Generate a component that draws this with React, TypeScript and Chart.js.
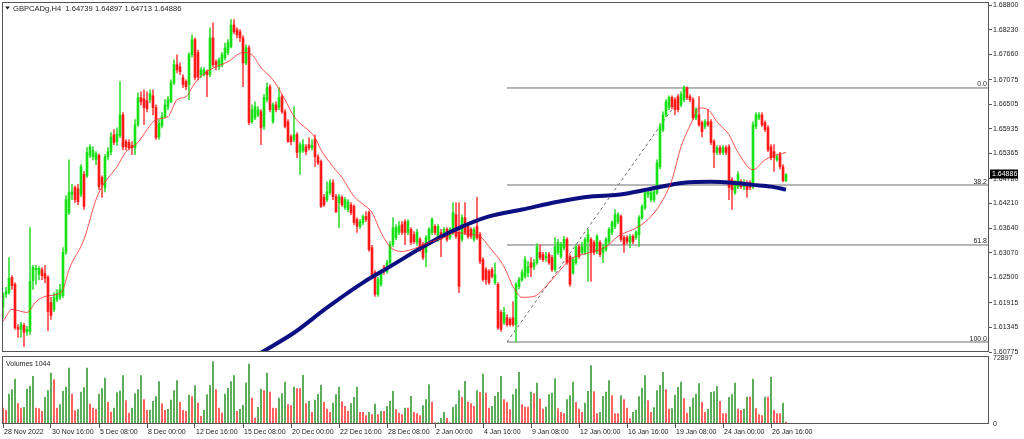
import React, { useEffect, useRef } from "react";
import { Chart, registerables } from "chart.js";
Chart.register(...registerables);

// ---------------- data ----------------
const symbolTitle = "GBPCADg,H4";

const opens = [
  1.6181,1.6211,1.6215,1.6250,1.6234,1.6134,1.6130,1.6139,1.6125,1.6125,
  1.6243,1.6268,1.6257,1.6268,1.6259,1.6250,1.6192,1.6176,1.6199,1.6204,
  1.6208,1.6308,1.6400,1.6442,1.6458,1.6455,1.6442,1.6488,1.6485,1.6532,
  1.6529,1.6522,1.6532,1.6481,1.6458,1.6529,1.6541,1.6580,1.6564,1.6578,
  1.6626,1.6564,1.6562,1.6555,1.6550,1.6603,1.6666,1.6663,1.6659,1.6661,
  1.6670,1.6643,1.6575,1.6601,1.6622,1.6645,1.6656,1.6700,1.6742,1.6737,
  1.6712,1.6703,1.6696,1.6765,1.6800,1.6770,1.6719,1.6719,1.6726,1.6719,
  1.6804,1.6749,1.6737,1.6742,1.6758,1.6770,1.6783,1.6834,1.6823,1.6818,
  1.6804,1.6746,1.6781,1.6610,1.6619,1.6626,1.6633,1.6599,1.6661,1.6691,
  1.6610,1.6649,1.6643,1.6668,1.6633,1.6610,1.6575,1.6569,1.6580,1.6539,
  1.6543,1.6552,1.6557,1.6550,1.6569,1.6529,1.6518,1.6435,1.6430,1.6446,
  1.6469,1.6437,1.6423,1.6435,1.6412,1.6407,1.6418,1.6414,1.6384,1.6368,
  1.6377,1.6391,1.6400,1.6319,1.6261,1.6211,1.6234,1.6273,1.6264,1.6284,
  1.6326,1.6342,1.6354,1.6372,1.6379,1.6354,1.6361,1.6349,1.6331,1.6338,
  1.6326,1.6308,1.6338,1.6354,1.6368,1.6338,1.6354,1.6349,1.6361,1.6342,
  1.6354,1.6395,1.6354,1.6338,1.6388,1.6368,1.6361,1.6338,1.6368,1.6349,
  1.6291,1.6268,1.6264,1.6268,1.6238,1.6234,1.6169,1.6146,1.6157,1.6153,
  1.6157,1.6141,1.6229,1.6245,1.6252,1.6261,1.6284,1.6275,1.6284,1.6308,
  1.6303,1.6296,1.6303,1.6296,1.6268,1.6308,1.6298,1.6319,1.6338,1.6298,
  1.6261,1.6284,1.6321,1.6308,1.6308,1.6333,1.6338,1.6331,1.6310,1.6331,
  1.6308,1.6314,1.6333,1.6354,1.6368,1.6379,1.6391,1.6342,1.6342,1.6331,
  1.6345,1.6342,1.6349,1.6388,1.6412,1.6442,1.6430,1.6430,1.6446,1.6506,
  1.6592,1.6626,1.6643,1.6666,1.6661,1.6668,1.6649,1.6661,1.6689,1.6668,
  1.6661,1.6619,1.6626,1.6608,1.6599,1.6610,1.6610,1.6564,1.6539,1.6550,
  1.6539,1.6550,1.6552,1.6476,1.6446,1.6460,1.6471,1.6460,1.6469,1.6469,
  1.6460,1.6599,1.6619,1.6626,1.6608,1.6596,1.6552,1.6541,1.6522,1.6534,
  1.6506,1.64739,
];

const highs = [
  1.6215,1.6227,1.6296,1.6254,1.6238,1.6141,1.6146,1.6144,1.6137,1.6365,
  1.6278,1.6278,1.6275,1.6273,1.6278,1.6254,1.6204,1.6215,1.6222,1.6234,
  1.6319,1.6439,1.6522,1.6465,1.6462,1.6465,1.6511,1.6495,1.6550,1.6557,
  1.6552,1.6541,1.6536,1.6485,1.6534,1.6550,1.6585,1.6592,1.6596,1.6703,
  1.6631,1.6569,1.6569,1.6564,1.6615,1.6677,1.6679,1.6684,1.6679,1.6684,
  1.6684,1.6649,1.6615,1.6631,1.6661,1.6668,1.6707,1.6753,1.6765,1.6746,
  1.6719,1.6707,1.6770,1.6811,1.6804,1.6776,1.6735,1.6735,1.6730,1.6827,
  1.6839,1.6753,1.6758,1.6770,1.6792,1.6800,1.6846,1.6846,1.6827,1.6823,
  1.6809,1.6788,1.6786,1.6649,1.6656,1.6645,1.6638,1.6673,1.6700,1.6696,
  1.6654,1.6656,1.6689,1.6673,1.6638,1.6615,1.6580,1.6645,1.6585,1.6562,
  1.6569,1.6557,1.6573,1.6569,1.6580,1.6534,1.6522,1.6442,1.6471,1.6476,
  1.6476,1.6442,1.6442,1.6439,1.6435,1.6430,1.6423,1.6418,1.6388,1.6384,
  1.6395,1.6402,1.6404,1.6324,1.6266,1.6250,1.6268,1.6278,1.6290,1.6333,
  1.6388,1.6372,1.6379,1.6379,1.6384,1.6384,1.6365,1.6356,1.6361,1.6342,
  1.6331,1.6347,1.6365,1.6388,1.6372,1.6372,1.6361,1.6365,1.6365,1.6365,
  1.6423,1.6423,1.6423,1.6395,1.6423,1.6372,1.6365,1.6365,1.6435,1.6354,
  1.6296,1.6273,1.6268,1.6273,1.6284,1.6238,1.6174,1.6181,1.6164,1.6157,
  1.6194,1.6238,1.6250,1.6268,1.6298,1.6287,1.6296,1.6291,1.6328,1.6326,
  1.6308,1.6308,1.6308,1.6301,1.6342,1.6338,1.6331,1.6345,1.6342,1.6303,
  1.6296,1.6326,1.6326,1.6331,1.6342,1.6361,1.6342,1.6335,1.6349,1.6335,
  1.6326,1.6342,1.6365,1.6381,1.6407,1.6400,1.6395,1.6347,1.6347,1.6349,
  1.6349,1.6358,1.6393,1.6418,1.6451,1.6453,1.6453,1.6453,1.6522,1.6606,
  1.6633,1.6661,1.6670,1.6670,1.6666,1.6673,1.6679,1.6693,1.6691,1.6673,
  1.6666,1.6643,1.6668,1.6612,1.6615,1.6638,1.6615,1.6569,1.6555,1.6555,
  1.6555,1.6555,1.6557,1.6481,1.6474,1.6495,1.6476,1.6476,1.6474,1.6474,
  1.6610,1.6631,1.6631,1.6631,1.6612,1.6601,1.6557,1.6557,1.6534,1.6539,
  1.6511,1.64897,
];

const lows = [
  1.6157,1.6204,1.6211,1.6222,1.6130,1.6111,1.6111,1.6090,1.6116,1.6118,
  1.6222,1.6234,1.6245,1.6245,1.6238,1.6127,1.6153,1.6171,1.6194,1.6199,
  1.6204,1.6303,1.6395,1.6430,1.6423,1.6418,1.6437,1.6407,1.6481,1.6527,
  1.6522,1.6511,1.6453,1.6435,1.6448,1.6522,1.6534,1.6557,1.6555,1.6573,
  1.6545,1.6545,1.6545,1.6534,1.6534,1.6599,1.6649,1.6603,1.6633,1.6654,
  1.6626,1.6569,1.6569,1.6596,1.6619,1.6638,1.6654,1.6696,1.6723,1.6719,
  1.6689,1.6684,1.6661,1.6760,1.6707,1.6707,1.6712,1.6716,1.6668,1.6714,
  1.6737,1.6730,1.6730,1.6737,1.6753,1.6765,1.6781,1.6813,1.6804,1.6795,
  1.6691,1.6742,1.6603,1.6606,1.6615,1.6622,1.6557,1.6592,1.6656,1.6633,
  1.6606,1.6633,1.6638,1.6629,1.6596,1.6562,1.6557,1.6564,1.6527,1.6488,
  1.6539,1.6534,1.6545,1.6545,1.6506,1.6511,1.6412,1.6414,1.6425,1.6442,
  1.6430,1.6400,1.6365,1.6414,1.6407,1.6402,1.6395,1.6372,1.6354,1.6363,
  1.6372,1.6379,1.6310,1.6250,1.6206,1.6206,1.6229,1.6257,1.6259,1.6280,
  1.6321,1.6337,1.6349,1.6349,1.6326,1.6349,1.6326,1.6328,1.6324,1.6310,
  1.6291,1.6275,1.6333,1.6349,1.6349,1.6333,1.6298,1.6345,1.6333,1.6338,
  1.6349,1.6340,1.6215,1.6333,1.6349,1.6340,1.6340,1.6333,1.6338,1.6282,
  1.6241,1.6234,1.6234,1.6248,1.6234,1.6130,1.6125,1.6141,1.6137,1.6137,
  1.6137,1.6100,1.6224,1.6241,1.6248,1.6252,1.6252,1.6268,1.6280,1.6291,
  1.6287,1.6287,1.6280,1.6264,1.6264,1.6303,1.6294,1.6314,1.6280,1.6229,
  1.6257,1.6280,1.6294,1.6303,1.6303,1.6241,1.6241,1.6303,1.6305,1.6298,
  1.6284,1.6310,1.6328,1.6349,1.6363,1.6374,1.6333,1.6308,1.6328,1.6319,
  1.6328,1.6338,1.6321,1.6384,1.6407,1.6435,1.6425,1.6425,1.6442,1.6501,
  1.6587,1.6622,1.6638,1.6640,1.6626,1.6633,1.6645,1.6656,1.6661,1.6656,
  1.6615,1.6615,1.6599,1.6575,1.6594,1.6599,1.6557,1.6504,1.6534,1.6534,
  1.6534,1.6534,1.6430,1.6407,1.6442,1.6455,1.6455,1.6453,1.6435,1.6453,
  1.6455,1.6594,1.6615,1.6599,1.6587,1.6541,1.6522,1.6495,1.6518,1.6501,
  1.6471,1.64713,
];

const closes = [
  1.6211,1.6217,1.6248,1.6231,1.6134,1.6130,1.6141,1.6123,1.6130,1.6241,
  1.6273,1.6271,1.6271,1.6254,1.6248,1.6171,1.6162,1.6204,1.6213,1.6222,
  1.6308,1.6430,1.6446,1.6448,1.6430,1.6425,1.6506,1.6414,1.6539,1.6552,
  1.6543,1.6536,1.6460,1.6465,1.6529,1.6541,1.6575,1.6562,1.6582,1.6626,
  1.6552,1.6552,1.6550,1.6550,1.6603,1.6666,1.6656,1.6643,1.6640,1.6675,
  1.6643,1.6573,1.6606,1.6622,1.6649,1.6661,1.6700,1.6742,1.6730,1.6726,
  1.6696,1.6691,1.6765,1.6800,1.6712,1.6714,1.6730,1.6730,1.6719,1.6804,
  1.6742,1.6742,1.6753,1.6765,1.6781,1.6793,1.6834,1.6818,1.6811,1.6804,
  1.6746,1.6781,1.6608,1.6638,1.6645,1.6638,1.6596,1.6666,1.6689,1.6638,
  1.6649,1.6638,1.6666,1.6633,1.6599,1.6564,1.6564,1.6580,1.6539,1.6557,
  1.6557,1.6541,1.6550,1.6555,1.6529,1.6515,1.6414,1.6418,1.6448,1.6469,
  1.6437,1.6402,1.6437,1.6418,1.6430,1.6425,1.6400,1.6377,1.6368,1.6379,
  1.6391,1.6384,1.6314,1.6252,1.6211,1.6245,1.6261,1.6264,1.6284,1.6326,
  1.6365,1.6365,1.6368,1.6354,1.6354,1.6379,1.6331,1.6333,1.6354,1.6314,
  1.6296,1.6342,1.6361,1.6384,1.6354,1.6368,1.6338,1.6361,1.6338,1.6361,
  1.6400,1.6345,1.6229,1.6388,1.6354,1.6345,1.6345,1.6361,1.6342,1.6287,
  1.6245,1.6245,1.6238,1.6252,1.6257,1.6134,1.6130,1.6169,1.6141,1.6141,
  1.6141,1.6234,1.6245,1.6261,1.6291,1.6275,1.6273,1.6284,1.6321,1.6296,
  1.6291,1.6298,1.6284,1.6268,1.6321,1.6331,1.6326,1.6338,1.6284,1.6234,
  1.6291,1.6319,1.6298,1.6321,1.6338,1.6349,1.6308,1.6308,1.6345,1.6303,
  1.6319,1.6338,1.6361,1.6377,1.6395,1.6395,1.6338,1.6326,1.6333,1.6345,
  1.6333,1.6354,1.6388,1.6414,1.6446,1.6448,1.6446,1.6448,1.6515,1.6599,
  1.6626,1.6656,1.6666,1.6645,1.6638,1.6638,1.6673,1.6689,1.6666,1.6661,
  1.6619,1.6638,1.6603,1.6587,1.6610,1.6603,1.6562,1.6539,1.6550,1.6539,
  1.6550,1.6539,1.6458,1.6453,1.6469,1.6488,1.6460,1.6469,1.6453,1.6458,
  1.6603,1.6626,1.6626,1.6603,1.6592,1.6545,1.6527,1.6527,1.6529,1.6506,
  1.6474,1.64886,
];

const volumes = [
  16570,13990,32030,36820,48600,21360,16570,17310,37560,40500,
  51550,16570,15830,12890,28350,35710,55230,47870,16570,20250,
  34980,39770,60750,32030,13620,14730,34240,39030,60750,20990,
  16570,15100,32030,37930,49710,22830,12150,16570,33510,35350,
  52280,24670,11050,16570,32400,36820,52280,25770,13990,14360,
  23930,29090,45660,21360,13990,15100,25410,35710,46760,22830,
  13990,12890,30560,29090,41240,22090,7360,13990,31300,41610,
  67750,36820,16570,11050,32030,38290,45660,52280,12890,15100,
  19510,44180,65170,27610,5520,17310,37560,35710,55230,34240,
  16570,15830,27610,32400,45290,20250,19150,39770,37930,37930,
  52650,21360,23930,11780,25410,31670,41980,22830,15470,11780,
  22090,31300,39770,23570,18410,12890,21360,28350,39770,11780,
  11780,8100,11780,9210,20990,9210,12890,12890,18410,23930,
  34980,14730,11050,9210,16570,16570,29460,11780,10310,8100,
  19150,25770,42340,23200,300,400,5150,11780,5150,600,
  17310,20250,35710,28350,46030,23200,21360,18410,35710,33870,
  54130,33140,16570,18410,29460,33870,51550,25770,22830,14730,
  31300,37560,55970,20250,17670,17670,34240,32400,44180,26510,
  15470,17670,31300,33140,48970,15830,11780,10310,25770,30190,
  45290,22830,15470,11780,22090,34980,63330,34610,10310,11780,
  29460,34240,46760,30190,10310,10310,30190,25770,16570,4790,
  11780,13990,29090,38660,52280,24670,11780,16940,35710,41240,
  55970,36820,15470,15830,30930,39400,45290,26880,11050,17670,
  27610,32030,43450,22830,11780,15100,33870,34610,40130,23930,
  10310,10310,28350,31300,44180,15470,13990,15470,28720,28720,
  48600,15830,9210,8100,28720,28720,50810,13990,10310,10310,
  22090,1044,
];

// moving averages at selected bars
const redMaBars = [0,3,8,11,14,18,20,22,27,31,33,38,41,45,48,51,55,58,61,64,68,75,80,83,86,90,94,97,104,106,110,113,117,121,123,126,129,133,138,142,147,151,156,159,162,167,170,173,177,180,185,189,193,196,201,205,212,216,220,223,226,230,232,235,238,242,245,250,254,258,261];
const redMaValues = [1.6148,1.6176,1.6169,1.6194,1.6206,1.6211,1.6222,1.6268,1.6338,1.6430,1.6460,1.6506,1.6541,1.6562,1.6592,1.6615,1.6622,1.6661,1.6668,1.6700,1.6726,1.6749,1.6770,1.6765,1.6735,1.6707,1.6661,1.6622,1.6573,1.6545,1.6506,1.6481,1.6437,1.6414,1.6400,1.6354,1.6321,1.6310,1.6319,1.6331,1.6342,1.6354,1.6349,1.6345,1.6321,1.6275,1.6229,1.6204,1.6206,1.6222,1.6261,1.6291,1.6303,1.6308,1.6321,1.6345,1.6368,1.6391,1.6430,1.6476,1.6552,1.6615,1.6642,1.6638,1.6610,1.6580,1.6539,1.6499,1.6522,1.6534,1.6539];
const blueMaBars = [84,87,97,108,120,129,140,151,162,173,185,196,205,216,227,236,243,250,256,261];
const blueMaValues = [1.6068,1.6080,1.6122,1.6180,1.6238,1.6275,1.6321,1.6361,1.6391,1.6407,1.6425,1.6437,1.6441,1.6455,1.6469,1.6471,1.6469,1.6464,1.6460,1.6453];

// Fibonacci retracement and its trend line
const fibLabels = ["0.0", "38.2", "61.8", "100.0"];
const fibPrices = [1.66881, 1.64637, 1.6325, 1.61006];
const fibAnchorBars = [168, 228];
const fibAnchorPrices = [1.61006, 1.66881];

// axes
const priceTicks = [1.688, 1.6823, 1.6766, 1.67075, 1.66505, 1.65935, 1.65365, 1.6478, 1.6421, 1.6364, 1.6307, 1.625, 1.61915, 1.61345, 1.60775];
const volumeTicks = [72897, 0];
const xTickLabels = ["28 Nov 2022","30 Nov 16:00","5 Dec 08:00","8 Dec 00:00","12 Dec 16:00","15 Dec 08:00","20 Dec 00:00","22 Dec 16:00","28 Dec 08:00","2 Jan 00:00","4 Jan 16:00","9 Jan 08:00","12 Jan 00:00","16 Jan 16:00","19 Jan 08:00","24 Jan 00:00","26 Jan 16:00"];
const barsPerTick = 16;

// ---------------- styles ----------------
const FONT = "'Liberation Sans', Arial, sans-serif";
const TEXT = "#1e1e1e";
const FRAME = "#555555";
const BODY_UP = "#16e216";
const BODY_DN = "#ff1a1a";
const WICK_UP = "#3ade3a";
const WICK_DN = "#ff4a4a";
const VOL_UP = "#3a9e3a";
const VOL_DN = "#ff4040";
const X_MIN = -1 / 3;
const X_MAX = X_MIN + 987 / 3;

const barIdx = closes.map((_, i) => i);

function frame(ctx: CanvasRenderingContext2D, a: any) {
  ctx.strokeStyle = FRAME;
  ctx.lineWidth = 1;
  ctx.strokeRect(a.left + 0.5, a.top + 0.5, a.right - a.left - 1, a.bottom - a.top - 1);
}

export default function App() {
  const priceRef = useRef<HTMLCanvasElement>(null);
  const volRef = useRef<HTMLCanvasElement>(null);

  useEffect(() => {
    document.body.style.margin = "0";
    const last = closes.length - 1;

    const priceDecor = {
      id: "priceDecor",
      afterDraw(chart: any) {
        const { ctx, chartArea: a, scales } = chart;
        const ys = scales.y;
        ctx.save();
        frame(ctx, a);
        ctx.fillStyle = TEXT;
        // title
        ctx.beginPath();
        ctx.moveTo(5, 6.5);
        ctx.lineTo(10, 6.5);
        ctx.lineTo(7.5, 9.5);
        ctx.closePath();
        ctx.fill();
        ctx.font = `7.6px ${FONT}`;
        ctx.textBaseline = "middle";
        ctx.textAlign = "left";
        const title = `${symbolTitle}  ${opens[last].toFixed(5)} ${highs[last].toFixed(5)} ${lows[last].toFixed(5)} ${closes[last].toFixed(5)}`;
        ctx.fillText(title, 13, 8.5);
        // fib labels
        ctx.font = `7px ${FONT}`;
        ctx.textAlign = "right";
        ctx.textBaseline = "alphabetic";
        fibPrices.forEach((p, k) => {
          const py = ys.getPixelForValue(p);
          ctx.fillText(fibLabels[k], a.right - 2, py - 1.5);
        });
        // current price box
        const cy = ys.getPixelForValue(closes[last]);
        ctx.fillStyle = "#000";
        ctx.fillRect(a.right + 1, Math.round(cy) - 4.5, 28, 9);
        ctx.fillStyle = "#fff";
        ctx.textAlign = "left";
        ctx.textBaseline = "middle";
        ctx.fillText(closes[last].toFixed(5), a.right + 3, Math.round(cy));
        ctx.restore();
      },
    };

    const volDecor = {
      id: "volDecor",
      afterDraw(chart: any) {
        const { ctx, chartArea: a } = chart;
        ctx.save();
        frame(ctx, a);
        ctx.font = `7px ${FONT}`;
        ctx.fillStyle = TEXT;
        ctx.textBaseline = "middle";
        ctx.textAlign = "left";
        ctx.fillText(`Volumes ${volumes[last]}`, 6, 12);
        ctx.restore();
      },
    };

    const lineBase = {
      type: "line" as const,
      pointRadius: 0,
      pointHoverRadius: 0,
      fill: false,
    };

    const priceChart = new Chart(priceRef.current as HTMLCanvasElement, {
      type: "bar",
      data: {
        datasets: [
          {
            ...lineBase,
            label: "MA fast",
            data: redMaBars.map((b, k) => ({ x: b, y: redMaValues[k] })),
            borderColor: "rgba(255,40,40,0.8)",
            borderWidth: 1,
            cubicInterpolationMode: "monotone",
            order: 1,
          } as any,
          {
            ...lineBase,
            label: "MA slow",
            data: blueMaBars.map((b, k) => ({ x: b, y: blueMaValues[k] })),
            borderColor: "#0b0f82",
            borderWidth: 4,
            cubicInterpolationMode: "monotone",
            clip: 0,
            order: 2,
          } as any,
          {
            type: "bar",
            label: "bodies",
            data: barIdx.map((i) => ({ x: i, y: [opens[i], closes[i]] })),
            backgroundColor: barIdx.map((i) => (closes[i] >= opens[i] ? BODY_UP : BODY_DN)),
            barThickness: 2,
            minBarLength: 1,
            grouped: false,
            order: 3,
          } as any,
          {
            type: "bar",
            label: "wicks",
            data: barIdx.map((i) => ({ x: i, y: [lows[i], highs[i]] })),
            backgroundColor: barIdx.map((i) => (closes[i] >= opens[i] ? WICK_UP : WICK_DN)),
            barThickness: 1,
            grouped: false,
            order: 4,
          } as any,
          {
            ...lineBase,
            label: "trend",
            data: fibAnchorBars.map((b, k) => ({ x: b, y: fibAnchorPrices[k] })),
            borderColor: "#6a6a6a",
            borderWidth: 1,
            borderDash: [3, 3],
            order: 5,
          } as any,
          ...fibPrices.map(
            (p) =>
              ({
                ...lineBase,
                label: "fib",
                data: [
                  { x: fibAnchorBars[0], y: p },
                  { x: X_MAX, y: p },
                ],
                borderColor: "#6e6e6e",
                borderWidth: 1,
                order: 6,
              } as any)
          ),
        ],
      },
      options: {
        animation: false,
        responsive: false,
        devicePixelRatio: 1,
        events: [],
        layout: { padding: { top: 2, left: 2, right: 0, bottom: 4 } },
        plugins: { legend: { display: false }, tooltip: { enabled: false } },
        scales: {
          x: { type: "linear", min: X_MIN, max: X_MAX, offset: false, bounds: "data", display: false, grid: { offset: false } },
          y: {
            type: "linear",
            position: "right",
            min: 1.60775,
            max: 1.688694,
            bounds: "data",
            afterBuildTicks: (s: any) => {
              s.ticks = priceTicks.map((v) => ({ value: v }));
            },
            afterFit: (s: any) => {
              s.width = 35;
              s.paddingTop = 0;
              s.paddingBottom = 0;
            },
            ticks: {
              autoSkip: false,
              padding: 1,
              color: TEXT,
              font: { family: FONT, size: 7 },
              callback: (v: any) => Number(v).toFixed(5),
            },
            grid: { drawOnChartArea: false, drawTicks: true, tickLength: 3, color: FRAME },
            border: { display: false },
          } as any,
        },
      },
      plugins: [priceDecor],
    } as any);

    const volChart = new Chart(volRef.current as HTMLCanvasElement, {
      type: "bar",
      data: {
        datasets: [
          {
            label: "Volumes",
            data: barIdx.map((i) => ({ x: i, y: volumes[i] })),
            backgroundColor: barIdx.map((i) => (i > 0 && volumes[i] > volumes[i - 1] ? VOL_UP : VOL_DN)),
            barThickness: 1,
          },
        ],
      },
      options: {
        animation: false,
        responsive: false,
        devicePixelRatio: 1,
        events: [],
        layout: { padding: { top: 4, left: 2, right: 0, bottom: 0 } },
        plugins: { legend: { display: false }, tooltip: { enabled: false } },
        scales: {
          x: {
            type: "linear",
            position: "bottom",
            min: X_MIN,
            max: X_MAX,
            offset: false,
            bounds: "data",
            afterBuildTicks: (s: any) => {
              s.ticks = xTickLabels.map((_, k) => ({ value: k * barsPerTick }));
            },
            afterFit: (s: any) => {
              s.height = 15;
              s.paddingLeft = 0;
              s.paddingRight = 0;
            },
            ticks: {
              autoSkip: false,
              maxRotation: 0,
              minRotation: 0,
              align: "start",
              labelOffset: 1,
              padding: 0,
              color: TEXT,
              font: { family: FONT, size: 7 },
              callback: (_v: any, k: number) => xTickLabels[k],
            },
            grid: { offset: false, drawOnChartArea: false, drawTicks: true, tickLength: 4, color: FRAME },
            border: { display: false },
          } as any,
          y: {
            type: "linear",
            position: "right",
            min: -1104,
            max: 73999,
            bounds: "data",
            afterBuildTicks: (s: any) => {
              s.ticks = volumeTicks.map((v) => ({ value: v }));
            },
            afterFit: (s: any) => {
              s.width = 35;
              s.paddingTop = 0;
              s.paddingBottom = 0;
            },
            ticks: {
              autoSkip: false,
              padding: 4,
              labelOffset: 1,
              color: TEXT,
              font: { family: FONT, size: 7 },
              callback: (v: any) => String(v),
            },
            grid: { display: false, drawTicks: false },
            border: { display: false },
          } as any,
        },
      },
      plugins: [volDecor],
    } as any);

    return () => {
      priceChart.destroy();
      volChart.destroy();
    };
  }, []);

  return (
    <div style={{ position: "relative", width: 1024, height: 439, background: "#fff", overflow: "hidden" }}>
      <canvas
        ref={priceRef}
        width={1024}
        height={356}
        style={{ position: "absolute", left: 0, top: 0, width: 1024, height: 356 }}
      />
      <canvas
        ref={volRef}
        width={1024}
        height={87}
        style={{ position: "absolute", left: 0, top: 352, width: 1024, height: 87 }}
      />
    </div>
  );
}
